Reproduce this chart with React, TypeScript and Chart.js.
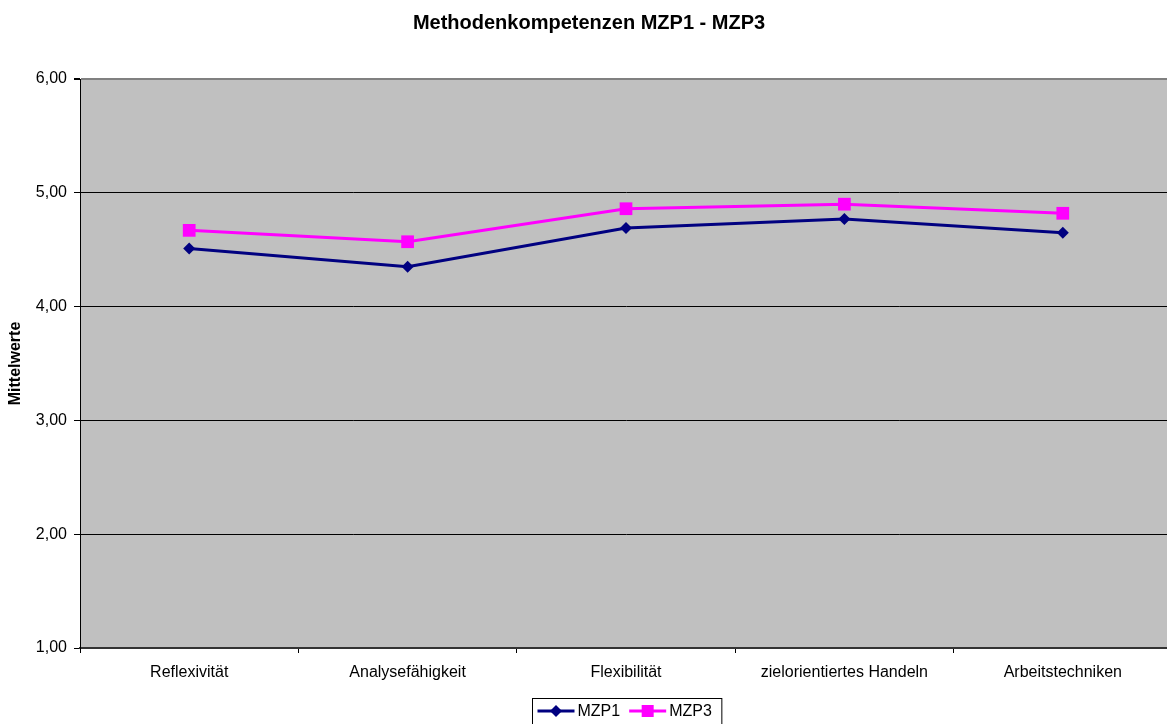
import React, { useEffect, useRef } from "react";
import { Chart, registerables } from "chart.js";

Chart.register(...registerables);

const categories = [
  "Reflexivität",
  "Analysefähigkeit",
  "Flexibilität",
  "zielorientiertes Handeln",
  "Arbeitstechniken",
];
const seriesNames = ["MZP1", "MZP3"];
const mzp1 = [4.51, 4.35, 4.69, 4.77, 4.65];
const mzp3 = [4.67, 4.57, 4.86, 4.9, 4.82];
const yTicks = [1, 2, 3, 4, 5, 6];
const chartTitle = "Methodenkompetenzen MZP1 - MZP3";
const yAxisTitle = "Mittelwerte";

const FONT = "'Liberation Sans', Arial, sans-serif";
const NAVY = "#000080";
const PINK = "#FF00FF";

const fmt = (v: number) => v.toFixed(2).replace(".", ",");

export default function App() {
  const ref = useRef<HTMLCanvasElement>(null);

  useEffect(() => {
    document.body.style.margin = "0";
    document.body.style.overflow = "hidden";
    const canvas = ref.current;
    if (!canvas) return;

    const plotBg = {
      id: "plotBg",
      beforeDraw(chart: any) {
        const { ctx, chartArea: a } = chart;
        ctx.save();
        ctx.fillStyle = "#C0C0C0";
        ctx.fillRect(a.left, a.top, a.right - a.left, a.bottom - a.top);
        ctx.restore();
      },
    };

    const boxLegend = {
      id: "boxLegend",
      afterDraw(chart: any) {
        const { ctx, chartArea: a } = chart;
        const ds = chart.data.datasets;
        ctx.save();
        ctx.font = `16px ${FONT}`;
        const lineLen = 37;
        const widths = ds.map((d: any) => ctx.measureText(d.label).width);
        const padL = 5;
        const padR = 10;
        const gapText = 3;
        const gapItem = 9;
        let total = padL + padR;
        widths.forEach((w: number, i: number) => {
          total += lineLen + gapText + w + (i < widths.length - 1 ? gapItem : 0);
        });
        const cx = (a.left + a.right) / 2;
        const left = Math.round(cx - total / 2) + 1.5;
        const top = 698.5;
        ctx.strokeStyle = "#000";
        ctx.lineWidth = 1;
        ctx.strokeRect(left, top, total, 30);
        const cy = 711;
        let x = left + padL;
        ds.forEach((d: any, i: number) => {
          ctx.strokeStyle = d.borderColor;
          ctx.lineWidth = 3;
          ctx.beginPath();
          ctx.moveTo(x, cy);
          ctx.lineTo(x + lineLen, cy);
          ctx.stroke();
          ctx.fillStyle = d.backgroundColor;
          const mx = x + lineLen / 2;
          if (d.pointStyle === "rectRot") {
            const r = 6;
            ctx.beginPath();
            ctx.moveTo(mx, cy - r);
            ctx.lineTo(mx + r, cy);
            ctx.lineTo(mx, cy + r);
            ctx.lineTo(mx - r, cy);
            ctx.closePath();
            ctx.fill();
          } else {
            const s = 6;
            ctx.fillRect(mx - s, cy - s, 2 * s, 2 * s);
          }
          ctx.fillStyle = "#000";
          ctx.textBaseline = "middle";
          ctx.textAlign = "left";
          ctx.fillText(d.label, x + lineLen + gapText, cy + 1);
          x += lineLen + gapText + widths[i] + gapItem;
        });
        ctx.restore();
      },
    };

    const chart = new Chart(canvas, {
      type: "line",
      data: {
        labels: categories,
        datasets: [
          {
            label: seriesNames[0],
            data: mzp1,
            borderColor: NAVY,
            backgroundColor: NAVY,
            borderWidth: 3,
            pointStyle: "rectRot",
            pointRadius: 6,
            pointBorderWidth: 0,
            pointBackgroundColor: NAVY,
            tension: 0,
          },
          {
            label: seriesNames[1],
            data: mzp3,
            borderColor: PINK,
            backgroundColor: PINK,
            borderWidth: 3,
            pointStyle: "rect",
            pointRadius: 9,
            pointBorderWidth: 0,
            pointBackgroundColor: PINK,
            tension: 0,
          },
        ],
      },
      options: {
        animation: false,
        responsive: false,
        maintainAspectRatio: false,
        layout: { padding: { left: 0, right: 3, top: 0, bottom: 30 } },
        plugins: {
          legend: { display: false },
          tooltip: { enabled: false },
          title: {
            display: true,
            text: chartTitle,
            color: "#000",
            font: { family: FONT, size: 20, weight: "bold" },
            padding: { top: 11, bottom: 44 },
          },
        },
        scales: {
          x: {
            type: "category",
            offset: true,
            grid: {
              offset: true,
              drawOnChartArea: false,
              drawTicks: true,
              tickLength: 5,
              tickColor: "#000",
              color: "#000",
            },
            border: { display: true, color: "#333", width: 2 },
            ticks: {
              color: "#000",
              font: { family: FONT, size: 16 },
              padding: 10,
              maxRotation: 0,
              autoSkip: false,
            },
            afterFit(scale: any) {
              scale.height = 46;
            },
          },
          y: {
            min: 1,
            max: 6,
            afterBuildTicks(scale: any) {
              scale.ticks = yTicks.map((v) => ({ value: v }));
            },
            grid: {
              color: (c: any) => (c.tick && c.tick.value === 6 ? "#808080" : "#000"),
              lineWidth: (c: any) => (c.tick && c.tick.value === 6 ? 2 : 1),
              drawTicks: true,
              tickLength: 6,
              tickColor: "#000",
            },
            border: { display: true, color: "#000", width: 1 },
            ticks: {
              color: "#000",
              font: { family: FONT, size: 16 },
              padding: 7,
              callback: (v: any) => fmt(Number(v)),
            },
            title: {
              display: true,
              text: yAxisTitle,
              color: "#000",
              font: { family: FONT, size: 16, weight: "bold" },
              padding: { top: 6, bottom: 0 },
            },
            afterFit(scale: any) {
              scale.width = 80;
            },
          },
        },
      },
      plugins: [plotBg, boxLegend],
    });

    return () => chart.destroy();
  }, []);

  return (
    <div style={{ width: 1167, height: 724, overflow: "hidden" }}>
      <canvas
        ref={ref}
        width={1181}
        height={724}
        style={{ display: "block", width: 1181, height: 724 }}
      />
    </div>
  );
}
